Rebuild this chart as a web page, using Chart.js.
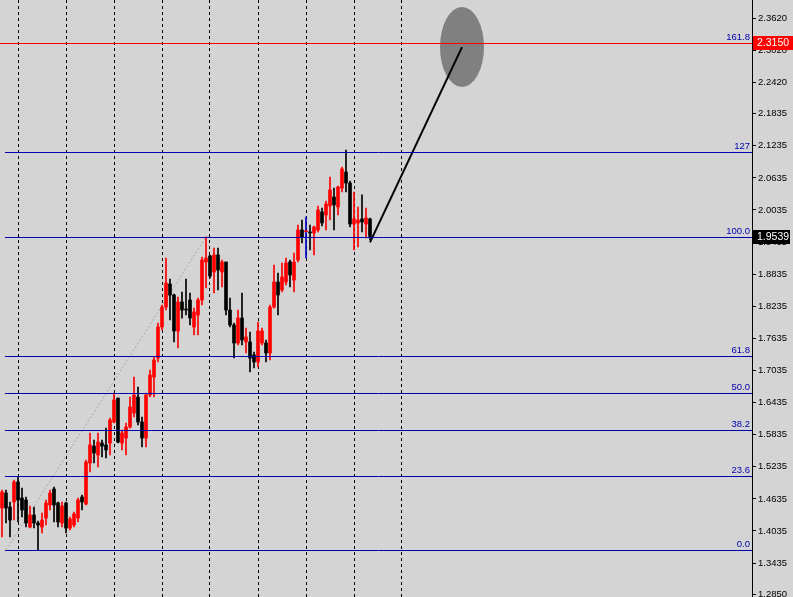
<!DOCTYPE html>
<html>
<head>
<meta charset="utf-8">
<script src="https://cdn.jsdelivr.net/npm/chart.js@4.4.0/dist/chart.umd.min.js"></script>
<style>
body { margin: 0; background: #d4d4d4; }
#wrap { width: 793px; height: 597px; }
</style>
</head>
<body>
<div id="wrap"><canvas id="chart"></canvas></div>
<script>
// daily candles, oldest first
const opens = [1.4464, 1.4745, 1.4483, 1.4577, 1.4951, 1.4651, 1.4614, 1.4109, 1.4334, 1.4184,
  1.4109, 1.4277, 1.4521, 1.4820, 1.4558, 1.4184, 1.4558, 1.4090, 1.4147, 1.4277,
  1.4670, 1.4539, 1.5306, 1.5623, 1.5456, 1.5679, 1.5642, 1.5679, 1.6072, 1.6520,
  1.5679, 1.5772, 1.5978, 1.6240, 1.6539, 1.6072, 1.5772, 1.6577, 1.6913, 1.7268,
  1.7848, 1.8221, 1.8651, 1.8446, 1.7773, 1.8315, 1.8184, 1.8352, 1.7848, 1.8072,
  1.8352, 1.9063, 1.9175, 1.8876, 1.9194, 1.8876, 1.9063, 1.8165, 1.7886, 1.7549,
  1.8015, 1.7568, 1.7568, 1.7325, 1.7194, 1.7549, 1.7549, 1.7362, 1.8221, 1.8689,
  1.8539, 1.8689, 1.9063, 1.8726, 1.9100, 1.9661, 1.9630, 1.9624, 1.9605, 1.9661,
  1.9998, 1.9942, 2.0110, 2.0278, 2.0091, 2.0445, 2.0745, 2.0539, 1.9773, 1.9792,
  1.9867, 1.9773, 1.9867];
const highs = [1.4801, 1.4801, 1.4577, 1.4988, 1.5044, 1.4838, 1.4670, 1.4502, 1.4483, 1.4221,
  1.4371, 1.4614, 1.4801, 1.4857, 1.4577, 1.4577, 1.4577, 1.4296, 1.4390, 1.4651,
  1.4708, 1.5362, 1.5866, 1.5735, 1.5866, 1.5735, 1.5959, 1.6146, 1.6614, 1.6520,
  1.5922, 1.6053, 1.6539, 1.6913, 1.6726, 1.6165, 1.6614, 1.7044, 1.7287, 1.7923,
  1.8259, 1.9137, 1.8745, 1.8464, 1.8408, 1.8502, 1.8745, 1.8483, 1.8202, 1.8389,
  1.9156, 1.9534, 1.9194, 1.9324, 1.9324, 1.9100, 1.9063, 1.8389, 1.7923, 1.8165,
  1.8483, 1.7829, 1.7755, 1.7381, 1.7942, 1.7829, 1.7605, 1.8259, 1.9007, 1.8857,
  1.9044, 1.9137, 1.9100, 1.9231, 1.9755, 1.9848, 1.9904, 1.9755, 1.9736, 2.0110,
  2.0072, 2.0203, 2.0651, 2.0445, 2.0483, 2.0838, 2.1156, 2.0576, 2.0372, 2.0091,
  2.0316, 2.0072, 1.9886];
const lows = [1.3922, 1.4184, 1.3922, 1.4240, 1.4203, 1.4296, 1.4109, 1.4090, 1.4090, 1.3679,
  1.3997, 1.4147, 1.4427, 1.4203, 1.4109, 1.4109, 1.3997, 1.4053, 1.4109, 1.4203,
  1.4427, 1.4521, 1.5138, 1.5306, 1.5231, 1.5418, 1.5399, 1.5456, 1.6053, 1.5679,
  1.5549, 1.5456, 1.5959, 1.6165, 1.6016, 1.5604, 1.5604, 1.6539, 1.6539, 1.7194,
  1.7792, 1.8165, 1.7979, 1.7568, 1.7455, 1.8015, 1.8072, 1.7886, 1.7699, 1.7699,
  1.8259, 1.8576, 1.8763, 1.8483, 1.8539, 1.8595, 1.8072, 1.7848, 1.7268, 1.7512,
  1.7512, 1.7362, 1.7007, 1.7081, 1.7100, 1.7512, 1.7194, 1.7231, 1.8202, 1.8072,
  1.8502, 1.8633, 1.8595, 1.8502, 1.9063, 1.9418, 1.9137, 1.9287, 1.9194, 1.9624,
  1.9736, 1.9661, 1.9848, 1.9661, 1.9942, 2.0372, 2.0372, 1.9717, 1.9287, 1.9343,
  1.9624, 1.9511, 1.9474];
const closes = [1.4764, 1.4464, 1.4240, 1.4951, 1.4614, 1.4427, 1.4184, 1.4334, 1.4184, 1.4147,
  1.4240, 1.4558, 1.4745, 1.4521, 1.4203, 1.4502, 1.4090, 1.4259, 1.4352, 1.4614,
  1.4577, 1.5325, 1.5642, 1.5493, 1.5698, 1.5623, 1.5549, 1.6109, 1.6483, 1.5698,
  1.5866, 1.5978, 1.6352, 1.6577, 1.6072, 1.5772, 1.6577, 1.6951, 1.7231, 1.7848,
  1.8221, 1.8670, 1.8446, 1.7773, 1.8315, 1.8165, 1.8165, 1.8015, 1.8128, 1.8352,
  1.9100, 1.9137, 1.8801, 1.9194, 1.8913, 1.9063, 1.8165, 1.7886, 1.7549, 1.8015,
  1.7605, 1.7661, 1.7268, 1.7194, 1.7773, 1.7773, 1.7362, 1.8221, 1.8689, 1.8446,
  1.8782, 1.9044, 1.8820, 1.9063, 1.9661, 1.9530, 1.9630, 1.9605, 1.9717, 2.0035,
  1.9792, 2.0147, 2.0409, 2.0129, 2.0464, 2.0801, 2.0539, 1.9773, 1.9867, 1.9848,
  1.9811, 1.9886, 1.9539];

const priceTicks = [2.3620, 2.3020, 2.2420, 2.1835, 2.1235, 2.0635, 2.0035, 1.9435, 1.8835, 1.8235,
  1.7635, 1.7035, 1.6435, 1.5835, 1.5235, 1.4635, 1.4035, 1.3435, 1.2850];

// fibo expansion
const fibLow = 1.3679, fibHigh = 1.9534;
const fibRatios = [0, 23.6, 38.2, 50, 61.8, 100, 127, 161.8];
const fibNames = ['0.0', '23.6', '38.2', '50.0', '61.8', '100.0', '127', '161.8'];
const fibFrom = 1, fibTo = 51;   // bars the fibo was drawn between

const alertPrice = 2.3150;
const lastPrice = 1.9539;
const targetFrom = 92, targetTo = 115;
const targetPrices = [1.9430, 2.3080];

const slots = 188;
const labels = Array.from({ length: slots }, (_, i) => i);

const bodies = labels.map(i => i < opens.length ? [opens[i], closes[i]] : null);
const wicks = labels.map(i => i < opens.length ? [lows[i], highs[i]] : null);
const candleCol = labels.map(i => i < opens.length && closes[i] >= opens[i] ? '#ff0000' : '#000000');
const wickCol = labels.map(i => i < opens.length && closes[i] === opens[i] ? '#0000c8' : candleCol[i]);

const fibLine = labels.map(i => i === fibFrom ? fibLow : i === fibTo ? fibHigh : null);
const targetLine = labels.map(i => i === targetFrom ? targetPrices[0] : i === targetTo ? targetPrices[1] : null);

const fibPrice = r => fibLow + (fibHigh - fibLow) * r / 100;

const overlay = {
  id: 'overlay',
  beforeDraw(chart) {
    const c = chart.ctx;
    c.save();
    c.fillStyle = '#d4d4d4';
    c.fillRect(0, 0, chart.width, chart.height);
    c.restore();
  },
  beforeDatasetsDraw(chart) {
    const c = chart.ctx, x = chart.scales.x, y = chart.scales.y;
    c.save();
    c.fillStyle = '#808080';
    c.beginPath();
    c.ellipse(x.getPixelForValue(targetTo), y.getPixelForValue(targetPrices[1]), 22, 40, 0, 0, Math.PI * 2);
    c.fill();
    c.restore();
  },
  afterDatasetsDraw(chart) {
    const c = chart.ctx, x = chart.scales.x, y = chart.scales.y, a = chart.chartArea;
    c.save();
    c.setLineDash([]);
    const x0 = x.getPixelForValue(fibFrom) - 1;
    c.lineWidth = 1;
    c.font = '9.5px "Liberation Sans", Arial, sans-serif';
    c.textAlign = 'right';
    c.textBaseline = 'bottom';
    fibRatios.forEach((r, i) => {
      const py = Math.round(y.getPixelForValue(fibPrice(r))) + 0.5;
      c.strokeStyle = '#0000b0';
      c.beginPath();
      c.moveTo(x0, py);
      c.lineTo(a.right, py);
      c.stroke();
      c.fillStyle = '#0000b0';
      c.fillText(fibNames[i], a.right - 2, py - 1);
    });
    // alert level
    const ay = Math.round(y.getPixelForValue(alertPrice)) + 0.5;
    c.strokeStyle = '#ff0000';
    c.beginPath();
    c.moveTo(a.left, ay);
    c.lineTo(a.right, ay);
    c.stroke();
    c.restore();
  },
  afterDraw(chart) {
    const c = chart.ctx, y = chart.scales.y, a = chart.chartArea;
    c.save();
    c.font = '10.5px "Liberation Sans", Arial, sans-serif';
    c.textBaseline = 'middle';
    c.textAlign = 'left';
    const tag = (price, bg, w) => {
      const py = Math.round(y.getPixelForValue(price));
      c.fillStyle = bg;
      c.fillRect(a.right + 1, py - 7, w, 14);
      c.fillStyle = '#ffffff';
      c.fillText(price.toFixed(4), a.right + 5, py);
    };
    tag(alertPrice, '#ff0000', 41);
    tag(lastPrice, '#000000', 37);
    c.restore();
  }
};

new Chart(document.getElementById('chart'), {
  type: 'bar',
  data: {
    labels: labels,
    datasets: [
      {
        type: 'line',
        data: targetLine,
        spanGaps: true,
        borderColor: '#000000',
        borderWidth: 2,
        pointRadius: 0,
        order: 0
      },
      {
        type: 'line',
        data: fibLine,
        spanGaps: true,
        borderColor: '#a6a6a6',
        borderWidth: 1,
        borderDash: [2, 2],
        pointRadius: 0,
        order: 3
      },
      {
        data: bodies,
        backgroundColor: candleCol,
        barThickness: 3,
        minBarLength: 1,
        grouped: false,
        borderWidth: 0,
        order: 1
      },
      {
        data: wicks,
        backgroundColor: wickCol,
        barThickness: 1,
        grouped: false,
        borderWidth: 0,
        order: 2
      }
    ]
  },
  options: {
    responsive: true,
    maintainAspectRatio: false,
    animation: false,
    layout: { padding: 0 },
    plugins: { legend: { display: false }, tooltip: { enabled: false } },
    scales: {
      x: {
        ticks: { display: false, autoSkip: false },
        afterFit: s => { s.height = 0; s.paddingLeft = 0; s.paddingRight = 0; },
        grid: {
          offset: false,
          drawTicks: false,
          color: ctx => (ctx.index % 12 === 4 && ctx.index <= 100) ? '#000000' : 'rgba(0,0,0,0)'
        },
        border: { display: false, dash: [3, 3] }
      },
      y: {
        position: 'right',
        min: 1.2801,
        max: 2.3960,
        afterBuildTicks: s => { s.ticks = priceTicks.map(v => ({ value: v })); },
        afterFit: s => { s.width = 41; s.paddingTop = 0; s.paddingBottom = 0; },
        ticks: {
          color: '#000000',
          padding: 2,
          font: { family: '"Liberation Sans", Arial, sans-serif', size: 9.5 },
          callback: v => v.toFixed(4)
        },
        grid: { drawOnChartArea: false, tickLength: 4, color: '#000000' },
        border: { color: '#000000' }
      }
    }
  },
  plugins: [overlay]
});
</script>
</body>
</html>
